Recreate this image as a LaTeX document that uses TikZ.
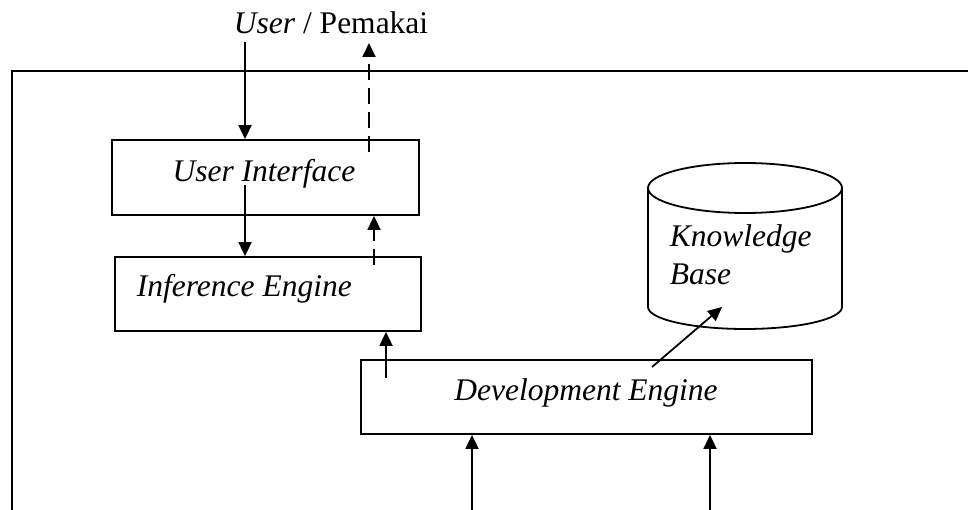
\documentclass[tikz,border=0pt]{standalone}
\usepackage{fontspec}
\setmainfont{Liberation Serif}
\usetikzlibrary{arrows.meta}
\begin{document}
\begin{tikzpicture}[x=1pt,y=-1pt,line width=1.8pt,
  >={Triangle[width=13pt,length=14pt]},
  box/.style={draw,line width=1.8pt,inner sep=0pt},
  lbl/.style={inner sep=0pt,font=\fontsize{31.5pt}{37pt}\selectfont},
  dashline/.style={dash pattern=on 16pt off 8pt}]
\useasboundingbox (0,0) rectangle (968,510);
\clip (0,0) rectangle (968,510);

% outer frame (open to the right and below)
\draw (12,510) -- (12,71) -- (968,71);

% boxes
\node[box,minimum width=307pt,minimum height=75pt] (ui) at (265.5,177.5) {};
\node[box,minimum width=306pt,minimum height=74pt] (ie) at (268,294) {};
\node[box,minimum width=451pt,minimum height=74pt] (de) at (586.5,397) {};

% knowledge base cylinder
\draw (745,188) ellipse [x radius=97pt,y radius=25pt];
\draw (648,188) -- (648,307) arc[start angle=180,end angle=360,x radius=97pt,y radius=22pt] -- (842,188);

% labels
\node[lbl,anchor=base west] (user) at (233,34) {\textit{User} / Pemakai};
\node[lbl,anchor=base] (uitxt) at (264,182) {\textit{User Interface}};
\node[lbl,anchor=base west] (ietxt) at (136,297) {\textit{Inference Engine}};
\node[lbl,anchor=base] (detxt) at (586,400) {\textit{Development Engine}};
\node[lbl,anchor=base west] (kb1) at (669,247) {\textit{Knowledge}};
\node[lbl,anchor=base west] (kb2) at (669,284) {\textit{Base}};

% anchor coordinates for connector ends
\coordinate (xa) at (245,0);
\coordinate (xc) at (374,0);
\coordinate (xd) at (386,0);
\coordinate (xe) at (472,0);
\coordinate (xf) at (710,0);
\coordinate (userin) at (245,42);
\coordinate (userout) at (369,43);
\coordinate (uiout) at (369,152);
\coordinate (uidown) at (245,185);
\coordinate (ieup) at (374,265);
\coordinate (deup) at (386,378);
\coordinate (detokb) at (652,367);
\coordinate (kbin) at (722,307);
\coordinate (in1) at (472,510);
\coordinate (in2) at (710,510);

% connectors
\draw[->] (userin) -- (ui.north -| xa);
\draw[->,dashline] (uiout) -- (userout);
\draw[->] (uidown) -- (ie.north -| xa);
\draw[->,dashline] (ieup) -- (ui.south -| xc);
\draw[->] (deup) -- (ie.south -| xd);
\draw[->] (detokb) -- (kbin);
\draw[->] (in1) -- (de.south -| xe);
\draw[->] (in2) -- (de.south -| xf);
\end{tikzpicture}
\end{document}
